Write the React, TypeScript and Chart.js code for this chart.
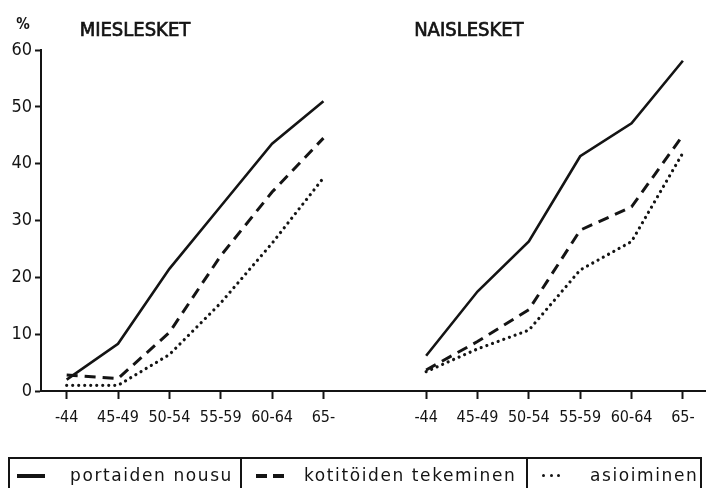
import React, { useEffect, useRef } from "react";
import { Chart, registerables } from "chart.js";

Chart.register(...registerables);

// ---- data ----
const ageGroups = ["-44", "45-49", "50-54", "55-59", "60-64", "65-"];
const panelTitles = ["MIESLESKET", "NAISLESKET"];
const yTickValues = [0, 10, 20, 30, 40, 50, 60];
const seriesNames = ["portaiden nousu", "kotitöiden tekeminen", "asioiminen"];

const menStairs = [2, 8.3, 21.5, 32.5, 43.5, 51];
const menHousework = [2.8, 2.2, 10.3, 23.8, 35, 44.5];
const menErrands = [1, 1, 6.4, 15.5, 26, 37.5];

const womenStairs = [6.2, 17.5, 26.3, 41.3, 47.1, 58.1];
const womenHousework = [3.7, 8.7, 14.3, 28.3, 32.4, 45];
const womenErrands = [3.4, 7.4, 10.7, 21.3, 26.3, 41.9];

const INK = "#141414";
const NARROW = '"DejaVu Sans Condensed", "Liberation Sans Narrow", sans-serif';
const ROUND = '"DejaVu Sans", "Noto Sans", sans-serif';

export default function App() {
  const canvasRef = useRef<HTMLCanvasElement | null>(null);

  useEffect(() => {
    const canvas = canvasRef.current;
    if (!canvas) return;

    const menX = ageGroups.map((_, i) => i);
    const womenX = ageGroups.map((_, i) => i + ageGroups.length + 1);

    const styles: any[] = [
      { borderDash: [], borderCapStyle: "butt", borderWidth: 2.6 },
      { borderDash: [11, 7], borderCapStyle: "butt", borderWidth: 3 },
      { borderDash: [0.01, 6], borderCapStyle: "round", borderWidth: 3.2 },
    ];

    const men = [menStairs, menHousework, menErrands];
    const women = [womenStairs, womenHousework, womenErrands];
    const datasets: any[] = [];
    men.forEach((vals, s) => {
      datasets.push({
        label: seriesNames[s] + " (miehet)",
        data: vals.map((v, i) => ({ x: menX[i], y: v })),
        borderColor: INK,
        ...styles[s],
        pointRadius: 0,
        fill: false,
        tension: 0,
      });
    });
    women.forEach((vals, s) => {
      datasets.push({
        label: seriesNames[s] + " (naiset)",
        data: vals.map((v, i) => ({ x: womenX[i], y: v })),
        borderColor: INK,
        ...styles[s],
        pointRadius: 0,
        fill: false,
        tension: 0,
      });
    });

    const titlePlugin = {
      id: "panelTitles",
      afterDraw(chart: any) {
        const ctx = chart.ctx;
        const xs = chart.scales.x;
        ctx.save();
        ctx.fillStyle = INK;
        ctx.strokeStyle = INK;
        ctx.lineWidth = 0.7;
        ctx.textBaseline = "middle";
        ctx.textAlign = "left";
        ctx.font = `20px ${NARROW}`;
        const t1x = xs.getPixelForValue(menX[0]) + 13;
        const t2x = xs.getPixelForValue(womenX[0]) - 12;
        ctx.fillText(panelTitles[0], t1x, 31);
        ctx.strokeText(panelTitles[0], t1x, 31);
        ctx.fillText(panelTitles[1], t2x, 31);
        ctx.strokeText(panelTitles[1], t2x, 31);
        ctx.textAlign = "center";
        ctx.font = `bold 15px ${NARROW}`;
        ctx.fillText("%", 23, 25);
        ctx.restore();
      },
    };

    const tickLabel = (v: number) => {
      const n = Math.round(v);
      if (n < ageGroups.length) return ageGroups[n];
      const k = n - ageGroups.length - 1;
      return k >= 0 && k < ageGroups.length ? ageGroups[k] : "";
    };

    const chart = new Chart(canvas, {
      type: "line",
      data: { datasets },
      plugins: [titlePlugin],
      options: {
        animation: false,
        responsive: false,
        maintainAspectRatio: false,
        layout: { padding: { top: 50, left: 0, right: 0, bottom: 0 } },
        plugins: {
          legend: { display: false },
          tooltip: { enabled: false },
          title: { display: false },
        },
        scales: {
          x: {
            type: "linear",
            min: -0.5,
            max: 12.45,
            afterBuildTicks: (s: any) => {
              s.ticks = [...menX, ...womenX].map((v) => ({ value: v }));
            },
            afterFit: (s: any) => {
              s.height = 97;
            },
            ticks: {
              callback: (v: any) => tickLabel(Number(v)),
              color: INK,
              font: { family: NARROW, size: 16 },
              padding: 9,
              maxRotation: 0,
              autoSkip: false,
            },
            grid: {
              drawOnChartArea: false,
              drawTicks: true,
              tickLength: 8,
              tickColor: INK,
              tickWidth: 2,
            },
            border: { display: true, color: INK, width: 2 },
          },
          y: {
            type: "linear",
            min: 0,
            max: 60,
            afterBuildTicks: (s: any) => {
              s.ticks = yTickValues.map((v) => ({ value: v }));
            },
            afterFit: (s: any) => {
              s.width = 41;
            },
            ticks: {
              color: INK,
              font: { family: NARROW, size: 18 },
              padding: 3,
            },
            grid: {
              drawOnChartArea: false,
              drawTicks: true,
              tickLength: 6,
              tickColor: INK,
              tickWidth: 2,
            },
            border: { display: true, color: INK, width: 2 },
          },
        },
      } as any,
    });

    return () => chart.destroy();
  }, []);

  const legendText: React.CSSProperties = {
    position: "absolute",
    top: 465,
    height: 20,
    lineHeight: "20px",
    fontFamily: ROUND,
    fontSize: 17,
    letterSpacing: "1.6px",
    color: INK,
    whiteSpace: "nowrap",
  };
  const bar = (left: number, width: number): React.CSSProperties => ({
    position: "absolute",
    left,
    top: 474,
    width,
    height: 3.5,
    background: INK,
  });
  const dot = (left: number): React.CSSProperties => ({
    position: "absolute",
    left,
    top: 474,
    width: 3.4,
    height: 3.4,
    borderRadius: "50%",
    background: INK,
  });
  const divider = (left: number): React.CSSProperties => ({
    position: "absolute",
    left,
    top: 457,
    width: 2,
    height: 34,
    background: INK,
  });

  return (
    <div
      style={{
        position: "fixed",
        left: 0,
        top: 0,
        width: 706,
        height: 488,
        background: "#fff",
        overflow: "hidden",
      }}
    >
      <canvas ref={canvasRef} width={706} height={488} style={{ display: "block" }} />
      <div
        style={{
          position: "absolute",
          left: 8,
          top: 457,
          width: 694,
          height: 34,
          border: `2px solid ${INK}`,
          boxSizing: "border-box",
        }}
      />
      <div style={divider(240)} />
      <div style={divider(526)} />
      <div style={bar(17, 28)} />
      <div style={{ ...legendText, left: 70 }}>{seriesNames[0]}</div>
      <div style={bar(256, 11)} />
      <div style={bar(273, 11)} />
      <div style={{ ...legendText, left: 304 }}>{seriesNames[1]}</div>
      <div style={dot(542)} />
      <div style={dot(549.5)} />
      <div style={dot(557)} />
      <div style={{ ...legendText, left: 590 }}>{seriesNames[2]}</div>
    </div>
  );
}
